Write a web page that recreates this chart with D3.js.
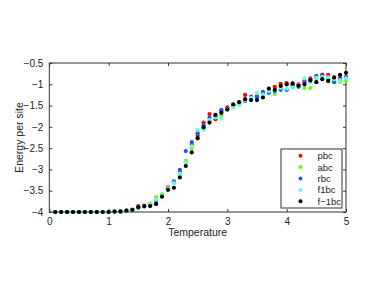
<!DOCTYPE html>
<html><head><meta charset="utf-8">
<script src="https://cdn.jsdelivr.net/npm/d3@7/dist/d3.min.js"></script>
<style>body{margin:0;background:#fff;}svg{display:block;}text{font-family:"Liberation Sans",Arial,sans-serif;}</style>
</head><body>
<svg id="c" width="382" height="287"></svg>
<script>
const temps = d3.range(1, 51).map(i => i / 10);
const low10 = [-4,-4,-4,-4,-4,-4,-4,-4,-4,-4];
const pbc  = low10.concat([-3.99,-3.99,-3.98,-3.95,-3.86,-3.87,-3.84,-3.81,-3.62,-3.42,-3.30,-3.06,-2.84,-2.42,-2.21,-1.90,-1.70,-1.82,-1.63,-1.54,-1.50,-1.44,-1.25,-1.33,-1.28,-1.22,-1.15,-1.06,-0.99,-0.97,-1.01,-1.00,-0.92,-0.86,-0.83,-0.77,-0.78,-0.90,-0.86,-0.83]);
const abc  = low10.concat([-3.99,-3.99,-3.97,-3.95,-3.90,-3.84,-3.80,-3.65,-3.58,-3.44,-3.27,-3.13,-2.80,-2.50,-2.12,-2.03,-1.85,-1.77,-1.73,-1.60,-1.52,-1.48,-1.39,-1.36,-1.31,-1.27,-1.18,-1.23,-1.10,-1.13,-1.06,-1.05,-1.09,-1.09,-0.90,-0.87,-0.93,-0.93,-0.94,-0.91]);
const rbc  = low10.concat([-3.99,-3.98,-3.97,-3.95,-3.88,-3.86,-3.83,-3.72,-3.61,-3.45,-3.29,-3.01,-2.57,-2.36,-2.15,-1.96,-1.78,-1.75,-1.60,-1.57,-1.49,-1.43,-1.39,-1.29,-1.30,-1.18,-1.20,-1.16,-1.13,-1.13,-1.03,-1.06,-0.95,-0.89,-0.80,-0.80,-0.88,-0.95,-0.89,-0.83]);
const f1bc = low10.concat([-3.99,-3.99,-3.98,-3.94,-3.91,-3.85,-3.82,-3.70,-3.60,-3.45,-3.32,-3.10,-2.84,-2.46,-2.07,-2.07,-1.84,-1.78,-1.80,-1.58,-1.55,-1.46,-1.37,-1.32,-1.20,-1.24,-1.16,-1.14,-1.08,-1.10,-1.08,-1.02,-0.86,-0.95,-0.85,-0.83,-0.84,-0.88,-0.91,-0.86]);
const fm1bc= low10.concat([-3.99,-3.99,-3.97,-3.95,-3.89,-3.86,-3.86,-3.81,-3.64,-3.48,-3.43,-3.19,-2.92,-2.60,-2.27,-2.01,-1.90,-1.72,-1.67,-1.59,-1.47,-1.42,-1.35,-1.37,-1.37,-1.31,-1.10,-1.13,-1.04,-1.00,-0.98,-1.03,-1.00,-0.91,-0.95,-0.88,-0.92,-0.84,-0.78,-0.73]);
const seriesNames = ["pbc","abc","rbc","f1bc","f\u22121bc"];
const seriesData = [pbc, abc, rbc, f1bc, fm1bc];
const seriesColors = ["#ff0000","#66ff00","#2255ff","#66ffdd","#000000"];
const xTicks = [0,1,2,3,4,5];
const yTicks = [-4,-3.5,-3,-2.5,-2,-1.5,-1,-0.5];

const svg = d3.select("#c");
const L = 49.3, R = 346, T = 63, B = 212;
const x = d3.scaleLinear().domain([0,5]).range([L,R]);
const y = d3.scaleLinear().domain([-4,-0.5]).range([B,T]);
const fmt = d => String(d).replace("-", "\u2212");
const axCol = "#333";

// box
svg.append("rect").attr("x",L).attr("y",T).attr("width",R-L).attr("height",B-T)
  .attr("fill","#fff").attr("stroke",axCol).attr("stroke-width",1);

const styleAxis = g => { g.select(".domain").remove(); g.selectAll("line").attr("stroke",axCol); g.selectAll("text").attr("fill","#222").style("font-size","10px").style("font-family","'Liberation Sans',Arial,sans-serif"); };
svg.append("g").attr("transform",`translate(0,${B})`)
  .call(d3.axisBottom(x).tickValues(xTicks).tickSizeInner(-3).tickSizeOuter(0).tickPadding(6).tickFormat(fmt)).call(styleAxis);
svg.append("g").attr("transform",`translate(0,${T})`)
  .call(d3.axisTop(x).tickValues(xTicks).tickSizeInner(-3).tickSizeOuter(0).tickFormat("")).call(styleAxis);
svg.append("g").attr("transform",`translate(${L},0)`)
  .call(d3.axisLeft(y).tickValues(yTicks).tickSizeInner(-3).tickSizeOuter(0).tickPadding(6).tickFormat(fmt)).call(styleAxis);
svg.append("g").attr("transform",`translate(${R},0)`)
  .call(d3.axisRight(y).tickValues(yTicks).tickSizeInner(-3).tickSizeOuter(0).tickFormat("")).call(styleAxis);

// points
seriesData.forEach((vals, si) => {
  svg.append("g").selectAll("circle").data(vals).join("circle")
    .attr("cx",(d,i)=>x(temps[i])).attr("cy",d=>y(d)).attr("r",2.1)
    .attr("fill",seriesColors[si]);
});

// labels
svg.append("text").attr("x",(L+R)/2).attr("y",236).attr("text-anchor","middle")
  .style("font-size","10.5px").attr("fill","#222").text("Temperature");
svg.append("text").attr("transform",`translate(23,${(T+B)/2}) rotate(-90)`).attr("text-anchor","middle")
  .style("font-size","10.5px").attr("fill","#222").text("Energy per site");

// legend
const lg = svg.append("g");
lg.append("rect").attr("x",281).attr("y",149).attr("width",61).attr("height",59)
  .attr("fill","#fff").attr("stroke",axCol).attr("stroke-width",1);
seriesNames.forEach((n,i)=>{
  const yy = 155.7 + i*11.4;
  lg.append("circle").attr("cx",300.5).attr("cy",yy).attr("r",2).attr("fill",seriesColors[i]);
  lg.append("text").attr("x",317.5).attr("y",yy+3.4).style("font-size","9.5px").attr("fill","#222").text(n);
});
</script>
</body></html>
